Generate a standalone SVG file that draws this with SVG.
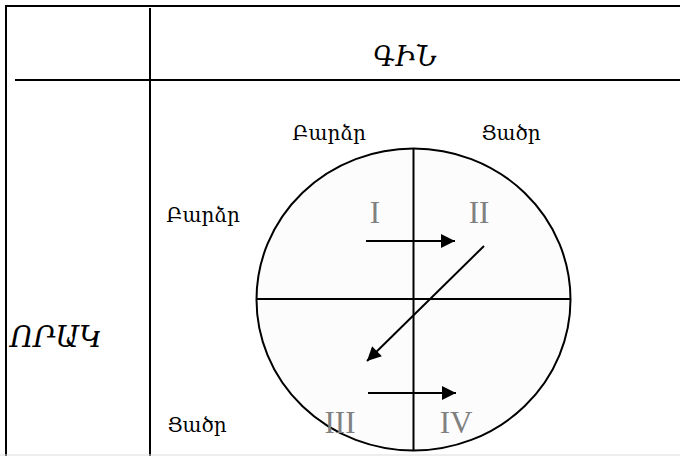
<svg xmlns="http://www.w3.org/2000/svg" width="680" height="456" viewBox="0 0 680 456">
<defs>
<style>
.ln{stroke:#000;stroke-width:2;fill:none}
.lbl{font-family:"DejaVu Serif",serif;font-size:20px;fill:#000}
.hd{font-family:"DejaVu Serif",serif;font-style:italic;fill:#000}
.rn{font-family:"Liberation Serif",serif;font-size:31px;fill:#808080;text-anchor:middle}
.ar{stroke:#000;stroke-width:2;fill:none;marker-end:url(#ah)}
</style>
<marker id="ah" viewBox="0 0 14 14" refX="14" refY="7" markerWidth="15" markerHeight="14" markerUnits="userSpaceOnUse" orient="auto">
<path d="M0,0 L14,7 L0,14 z" fill="#000"/>
</marker>
</defs>
<rect width="680" height="456" fill="#fff"/>
<g id="table">
<line class="ln" x1="6" y1="6" x2="680" y2="6"/>
<line class="ln" x1="6" y1="5" x2="6" y2="456"/>
<line class="ln" x1="15" y1="80" x2="680" y2="80"/>
<line class="ln" x1="150" y1="8" x2="150" y2="456"/>
<line x1="0" y1="455" x2="680" y2="455" stroke="#ddd" stroke-width="1"/>
</g>
<g id="header-gin"><text class="hd" x="405" y="66" font-size="27" text-anchor="middle">ԳԻՆ</text></g>
<g id="header-orak"><text class="hd" x="10" y="347" font-size="29">ՈՐԱԿ</text></g>
<g id="circle">
<ellipse cx="413.5" cy="299.5" rx="157" ry="151" fill="#fcfcfc" stroke="#000" stroke-width="2"/>
<line class="ln" x1="413.5" y1="148" x2="413.5" y2="451"/>
<line class="ln" x1="256" y1="299" x2="571" y2="299"/>
</g>
<g id="labels">
<text class="lbl" x="329" y="140" text-anchor="middle">Բարձր</text>
<text class="lbl" x="511" y="140" text-anchor="middle">Ցածր</text>
<text class="lbl" x="203" y="222" text-anchor="middle">Բարձր</text>
<text class="lbl" x="197" y="432" text-anchor="middle">Ցածր</text>
</g>
<g id="quadrants">
<text class="rn" x="375" y="223">I</text>
<text class="rn" x="479" y="223">II</text>
<text class="rn" x="340" y="433">III</text>
<text class="rn" x="456" y="433">IV</text>
</g>
<g id="connectors">
<line class="ar" x1="366" y1="241" x2="455" y2="241"/>
<line class="ar" x1="484" y1="246" x2="367" y2="361"/>
<line class="ar" x1="368" y1="393" x2="456" y2="393"/>
</g>
</svg>
